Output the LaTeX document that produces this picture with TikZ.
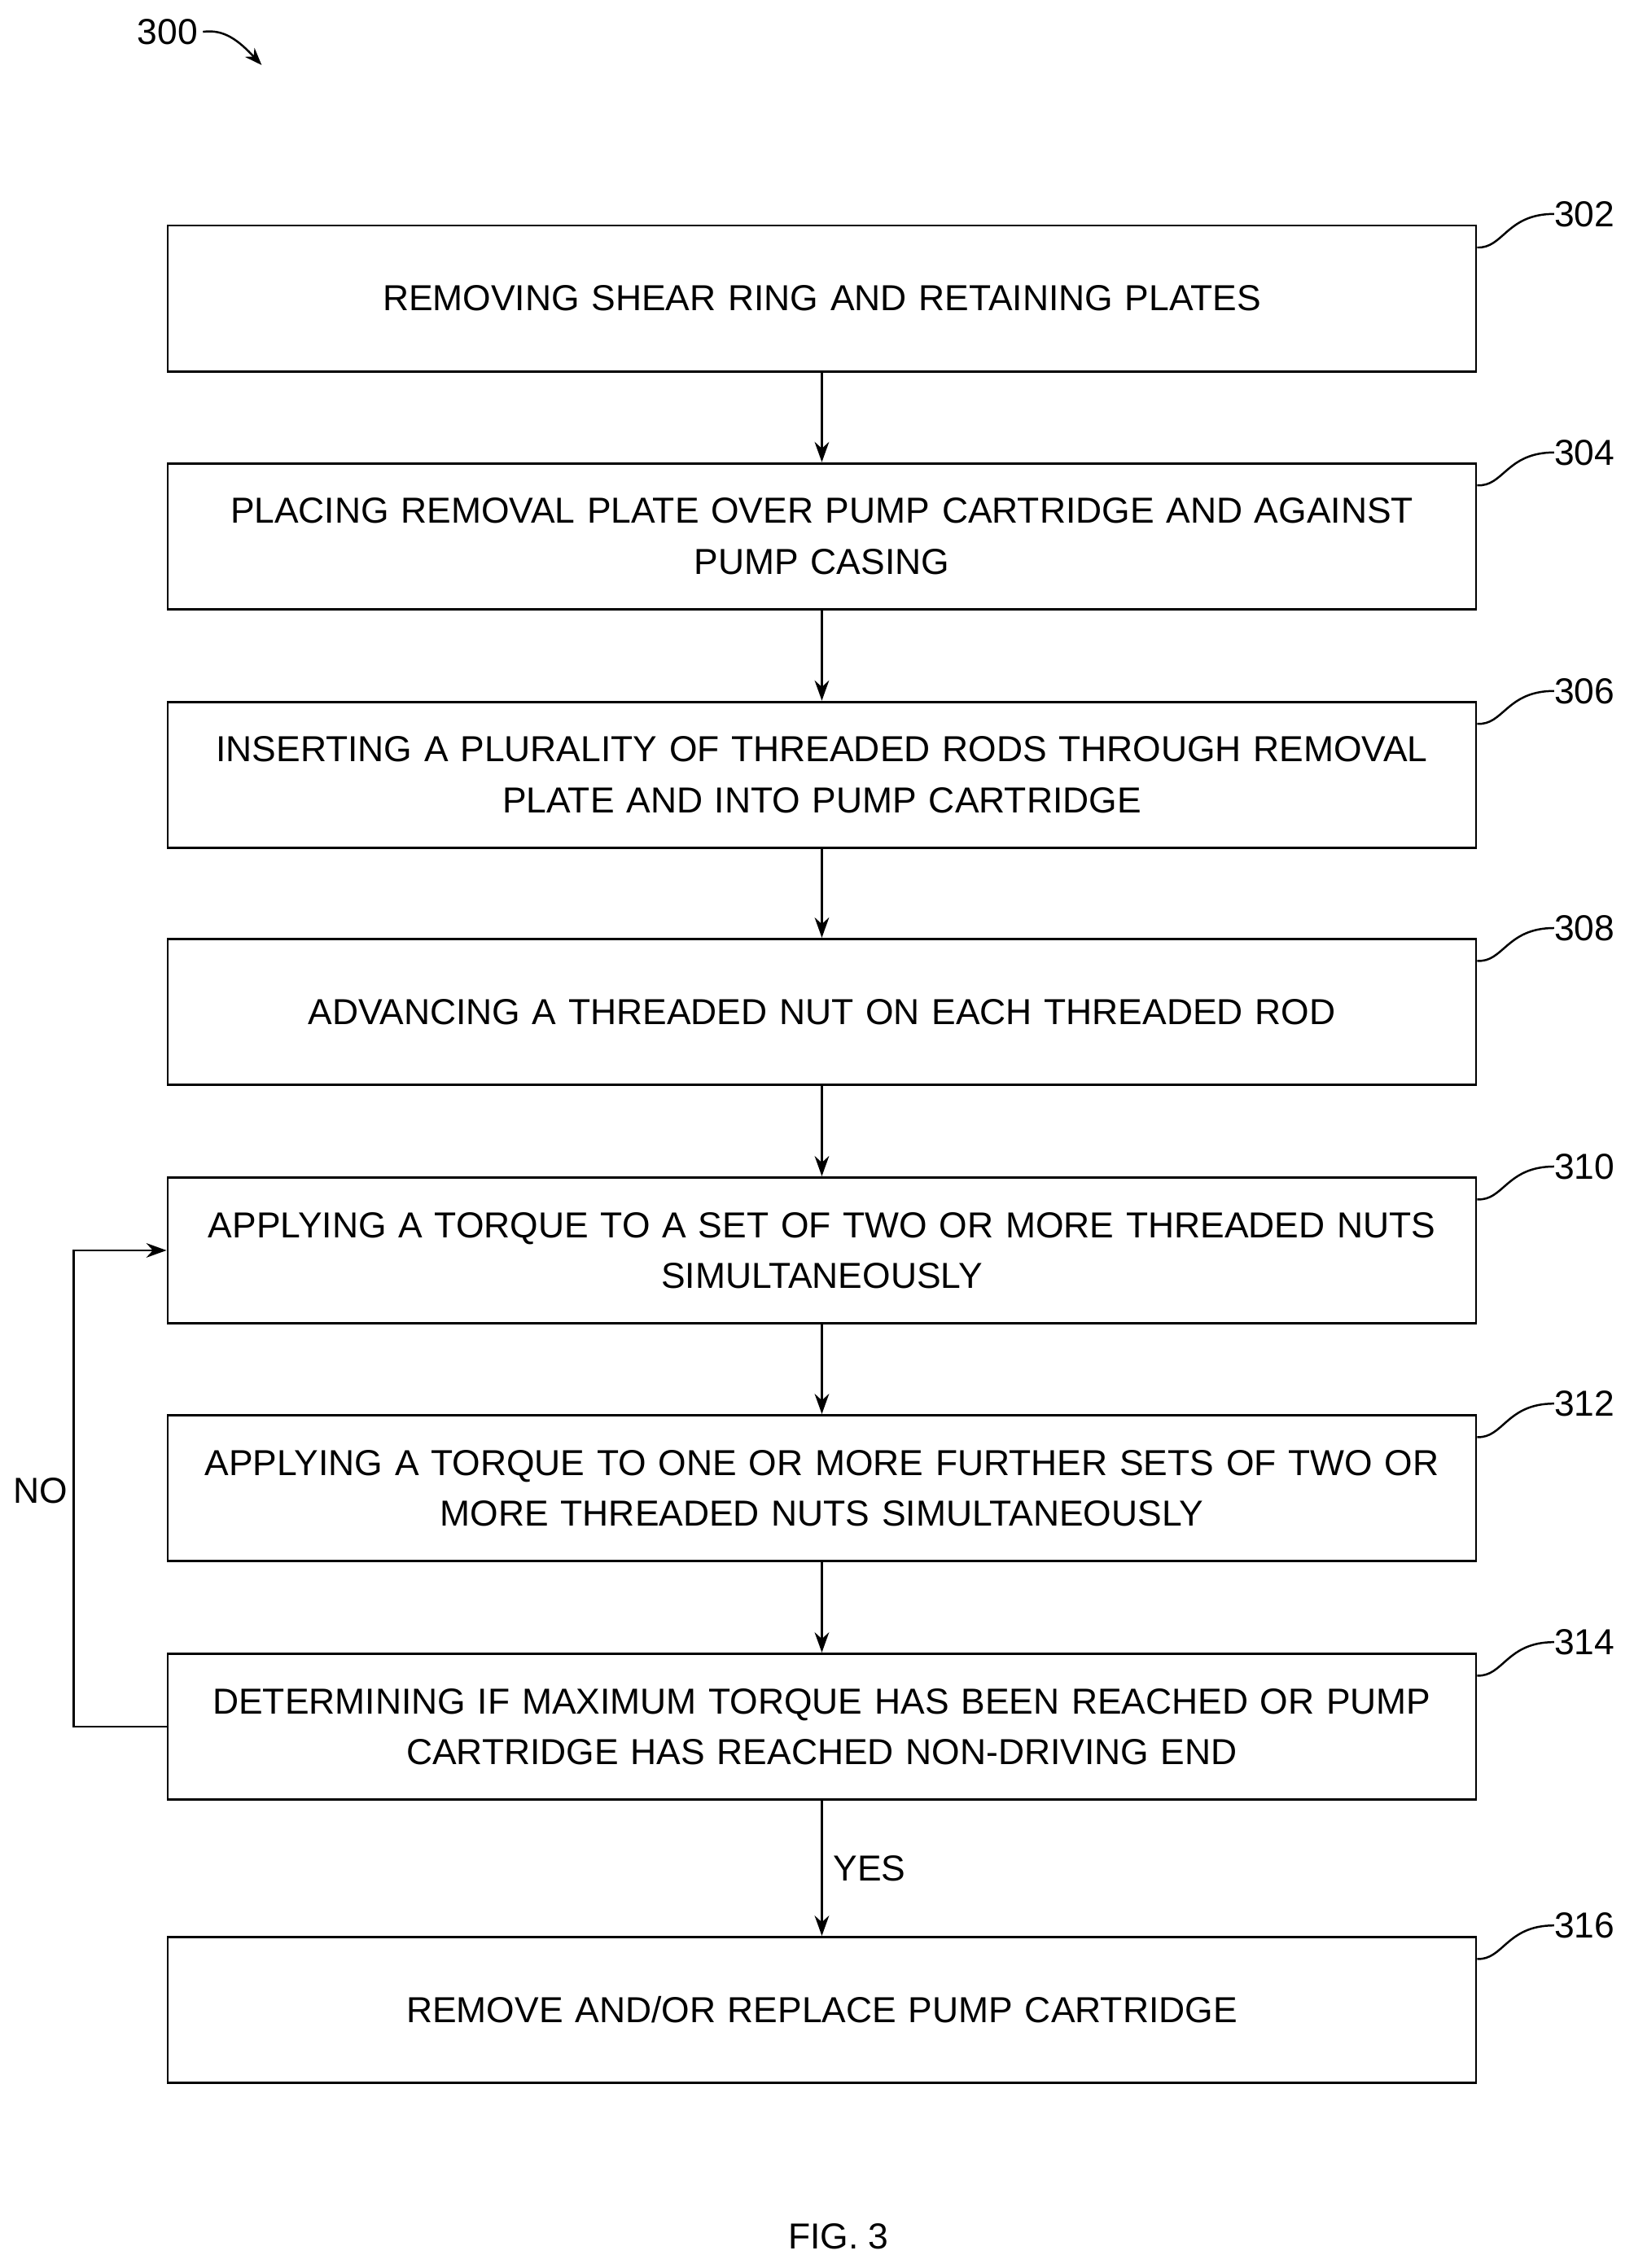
\documentclass[tikz,border=0pt]{standalone}
\usepackage{fontspec}
\setmainfont{Liberation Sans}
\usetikzlibrary{arrows.meta}
\begin{document}
\begin{tikzpicture}[x=1pt,y=-1pt,
  box/.style={draw,line width=1.6pt,minimum width=905pt,minimum height=101pt,align=center,text width=860pt,font=\fontsize{25}{35}\selectfont,inner sep=0pt},
  lbl/.style={font=\fontsize{25}{30}\selectfont,anchor=west,inner sep=0pt},
  arr/.style={line width=1.4pt,-{Stealth[length=14pt,width=10pt]}},
  sq/.style={line width=1.4pt}]
\useasboundingbox (0,0) rectangle (1130,1569);
\node[box] (b302) at (568.5,206.5) {REMOVING SHEAR RING AND RETAINING PLATES};
\node[box] (b304) at (568.5,371) {PLACING REMOVAL PLATE OVER PUMP CARTRIDGE AND AGAINST\\PUMP CASING};
\node[box] (b306) at (568.5,536) {INSERTING A PLURALITY OF THREADED RODS THROUGH REMOVAL\\PLATE AND INTO PUMP CARTRIDGE};
\node[box] (b308) at (568.5,700) {ADVANCING A THREADED NUT ON EACH THREADED ROD};
\node[box] (b310) at (568.5,865) {APPLYING A TORQUE TO A SET OF TWO OR MORE THREADED NUTS\\SIMULTANEOUSLY};
\node[box] (b312) at (568.5,1029.5) {APPLYING A TORQUE TO ONE OR MORE FURTHER SETS OF TWO OR\\MORE THREADED NUTS SIMULTANEOUSLY};
\node[box] (b314) at (568.5,1194.5) {DETERMINING IF MAXIMUM TORQUE HAS BEEN REACHED OR PUMP\\CARTRIDGE HAS REACHED NON-DRIVING END};
\node[box] (b316) at (568.5,1390.5) {REMOVE AND/OR REPLACE PUMP CARTRIDGE};
\foreach \n/\y in {302/156,304/321,306/486,308/650,310/815,312/979,314/1144,316/1340}{
  \node[lbl] (l\n) at (1075,\y-8) {\n};
  \draw[sq] ([yshift=-16pt]b\n.north east) .. controls (1040,\y+16) and (1042,\y-8) .. (l\n.west);
}
\draw[arr] (b302) -- (b304);
\draw[arr] (b304) -- (b306);
\draw[arr] (b306) -- (b308);
\draw[arr] (b308) -- (b310);
\draw[arr] (b310) -- (b312);
\draw[arr] (b312) -- (b314);
\draw[arr] (b314) -- node[right,xshift=4pt,font=\fontsize{25}{30}\selectfont]{YES} (b316);
\coordinate (c1) at (51,1194.5);
\coordinate (c2) at (51,865);
\draw[arr] (b314.west) -- (c1) -- (c2) -- (b310.west);
\node[font=\fontsize{25}{30}\selectfont] (no) at (28,1031) {NO};
\node[font=\fontsize{25}{30}\selectfont] (n300) at (116,22) {300};
\coordinate (a300) at (181,45);
\draw[line width=1.4pt,-{Stealth[length=12pt,width=9pt]}] (n300.east) .. controls (155,20) and (165,28) .. (a300);
\node[font=\fontsize{25}{30}\selectfont] (fig) at (580,1547) {FIG. 3};
\end{tikzpicture}
\end{document}
